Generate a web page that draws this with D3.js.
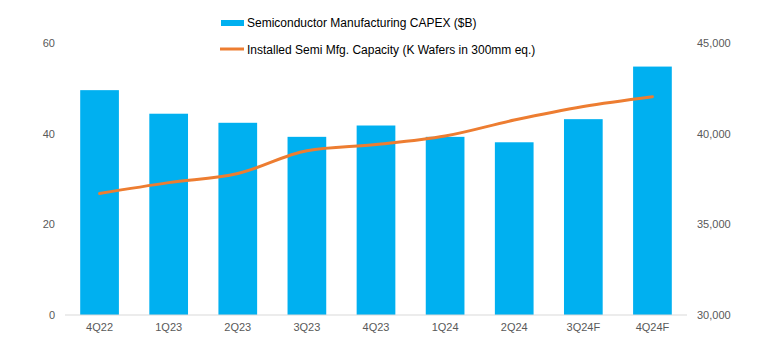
<!DOCTYPE html>
<html>
<head>
<meta charset="utf-8">
<script src="https://cdn.jsdelivr.net/npm/d3@7.9.0/dist/d3.min.js"></script>
<style>
  body { margin: 0; background: #fff; }
  svg { display: block; font-family: "Liberation Sans", Arial, sans-serif; }
</style>
</head>
<body>
<div id="chart"></div>
<script>
const quarters = ['4Q22', '1Q23', '2Q23', '3Q23', '4Q23', '1Q24', '2Q24', '3Q24F', '4Q24F'];
const capex = [49.6, 44.4, 42.4, 39.3, 41.8, 39.3, 38.1, 43.2, 54.8];
const capacity = [36700, 37300, 37800, 39060, 39400, 39870, 40750, 41500, 42040];
const leftTicks = [0, 20, 40, 60];
const rightTicks = [30000, 35000, 40000, 45000];
const capexLabel = 'Semiconductor Manufacturing CAPEX ($B)';
const capacityLabel = 'Installed Semi Mfg. Capacity (K Wafers in 300mm eq.)';

const width = 779;
const height = 348;
const plot = { left: 65, right: 687, top: 43, bottom: 315 };

const svg = d3.select('#chart')
  .append('svg')
  .attr('width', width)
  .attr('height', height);

const xScale = d3.scaleBand()
  .domain(quarters)
  .range([plot.left, plot.right])
  .paddingInner(0.44)
  .paddingOuter(0.22);

const yLeft = d3.scaleLinear()
  .domain([0, 60])
  .range([plot.bottom, plot.top]);

const yRight = d3.scaleLinear()
  .domain([30000, 45000])
  .range([plot.bottom, plot.top]);

// bars
svg.append('g')
  .selectAll('rect')
  .data(quarters)
  .join('rect')
  .attr('x', d => xScale(d))
  .attr('y', (d, i) => yLeft(capex[i]))
  .attr('width', xScale.bandwidth())
  .attr('height', (d, i) => yLeft(0) - yLeft(capex[i]))
  .attr('fill', '#00B0F0');

// baseline
svg.append('line')
  .attr('x1', plot.left)
  .attr('x2', plot.right)
  .attr('y1', plot.bottom)
  .attr('y2', plot.bottom)
  .attr('stroke', '#D9D9D9')
  .attr('stroke-width', 1);

// capacity line
const line = d3.line()
  .x((d, i) => xScale(quarters[i]) + xScale.bandwidth() / 2)
  .y(d => yRight(d))
  .curve(d3.curveMonotoneX);

svg.append('path')
  .datum(capacity)
  .attr('d', line)
  .attr('fill', 'none')
  .attr('stroke', '#ED7D31')
  .attr('stroke-width', 3)
  .attr('stroke-linecap', 'round');

// axes
const leftAxis = svg.append('g')
  .attr('transform', `translate(${plot.left - 10},0)`)
  .call(d3.axisLeft(yLeft).tickValues(leftTicks).tickSize(0).tickPadding(0));

const rightAxis = svg.append('g')
  .attr('transform', `translate(${plot.right + 10},0)`)
  .call(d3.axisRight(yRight).tickValues(rightTicks).tickFormat(d3.format(',')).tickSize(0).tickPadding(0));

const bottomAxis = svg.append('g')
  .attr('transform', `translate(0,${plot.bottom + 8})`)
  .call(d3.axisBottom(xScale).tickSize(0).tickPadding(0));

[leftAxis, rightAxis, bottomAxis].forEach(g => {
  g.select('.domain').remove();
  g.selectAll('text')
    .attr('fill', '#595959')
    .style('font-size', '11px')
    .style('font-family', '"Liberation Sans", Arial, sans-serif');
});

// legend
const legend = svg.append('g');
legend.append('rect')
  .attr('x', 221).attr('y', 20)
  .attr('width', 23).attr('height', 6)
  .attr('fill', '#00B0F0');
legend.append('text')
  .attr('x', 247).attr('y', 27)
  .attr('font-size', 12)
  .attr('fill', '#000')
  .text(capexLabel);
legend.append('line')
  .attr('x1', 220).attr('x2', 244)
  .attr('y1', 49).attr('y2', 49)
  .attr('stroke', '#ED7D31')
  .attr('stroke-width', 3);
legend.append('text')
  .attr('x', 247).attr('y', 54)
  .attr('font-size', 12)
  .attr('fill', '#000')
  .text(capacityLabel);
</script>
</body>
</html>
